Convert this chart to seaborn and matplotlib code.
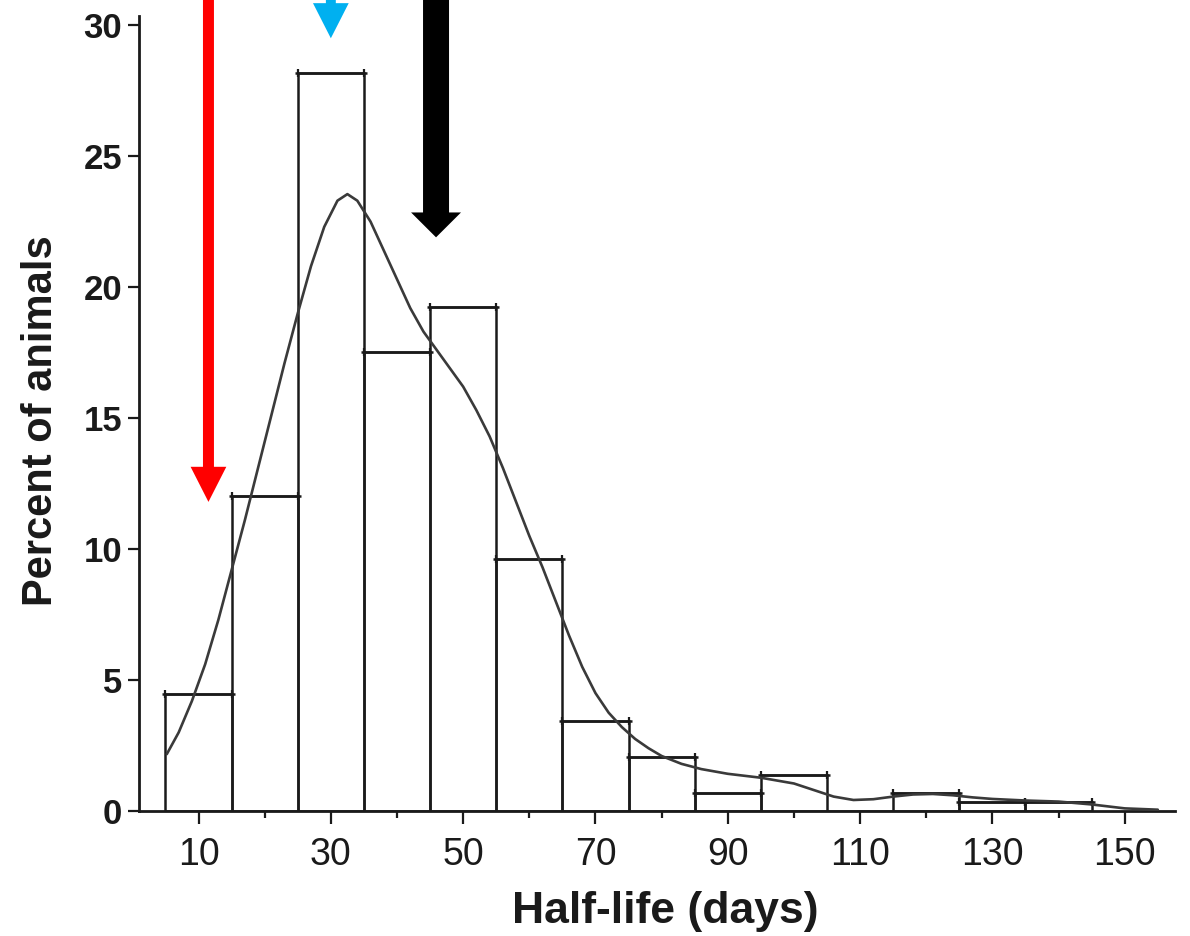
import matplotlib
matplotlib.use("Agg")
import matplotlib.pyplot as plt
import numpy as np
import pandas as pd
import seaborn as sns
from matplotlib.ticker import FixedLocator

# ---------------- data ----------------
bin_centers = [10, 20, 30, 40, 50, 60, 70, 80, 90, 100, 110, 120, 130, 140]
percent = [4.47, 12.03, 28.18, 17.53, 19.24, 9.62, 3.44, 2.06, 0.69, 1.37, 0.0, 0.69, 0.34, 0.34]
bin_width = 10

curve_days = [5.2, 7, 9, 11, 13, 15, 17, 19, 21, 23, 25, 27, 29, 31, 32.5, 34, 36, 38,
              40, 42, 44, 46, 48, 50, 52, 54, 56, 58, 60, 62, 64, 66, 68, 70, 72, 74,
              76, 78, 80, 83, 86, 90, 95, 100, 103, 106, 109, 112, 115, 118, 121, 124,
              127, 130, 135, 140, 145, 150, 155]
curve_pct = [2.17, 3.0, 4.2, 5.6, 7.3, 9.2, 11.1, 13.1, 15.1, 17.1, 19.0, 20.8, 22.3,
             23.3, 23.55, 23.3, 22.5, 21.4, 20.3, 19.2, 18.3, 17.6, 16.9, 16.2, 15.3,
             14.3, 13.1, 11.8, 10.5, 9.3, 8.0, 6.7, 5.5, 4.5, 3.75, 3.2, 2.75, 2.4,
             2.1, 1.8, 1.6, 1.42, 1.27, 1.05, 0.8, 0.55, 0.42, 0.45, 0.55, 0.63, 0.65,
             0.6, 0.52, 0.46, 0.40, 0.36, 0.25, 0.10, 0.05]

xtick_major = [10, 30, 50, 70, 90, 110, 130, 150]
xtick_minor = [20, 40, 60, 80, 100, 120, 140]
ytick_vals = [0, 5, 10, 15, 20, 25, 30]

arrow_days = [11.5, 30.0, 45.9]
arrow_tips = [11.8, 29.5, 21.9]
arrow_colors = ["#ff0000", "#00b0f0", "#000000"]

x_label = "Half-life (days)"
y_label = "Percent of animals"

# ---------------- style ----------------
arrow_style = [dict(width=1.66, head_width=5.4, head_length=1.34),
               dict(width=1.5, head_width=5.4, head_length=1.34),
               dict(width=3.93, head_width=7.55, head_length=0.95)]

sns.set_theme(style="ticks")
plt.rcParams["font.family"] = ["Liberation Sans", "DejaVu Sans"]

fig = plt.figure(figsize=(11.9, 9.36), dpi=100)
ax = fig.add_axes([0.1168, 0.13355, 0.8706, 0.84936])

line_col = "#1a1a1a"
edges = [c - bin_width / 2 for c in bin_centers] + [bin_centers[-1] + bin_width / 2]
df = pd.DataFrame({"day": bin_centers, "pct": percent})
sns.histplot(data=df, x="day", weights="pct", bins=edges, fill=False,
             element="bars", color=line_col, linewidth=1.8, ax=ax, zorder=2)

# small overhanging caps at bar tops
for c, h in zip(bin_centers, percent):
    if h <= 0:
        continue
    l, r = c - bin_width / 2, c + bin_width / 2
    ax.plot([l - 0.45, r + 0.45], [h, h], color=line_col, lw=1.8,
            solid_capstyle="butt", zorder=2)
    ax.plot([l, r], [h, h], ls="none", marker="|", ms=6, mew=1.6,
            color=line_col, zorder=2)

sns.lineplot(x=curve_days, y=curve_pct, ax=ax, color="#3a3a3a", lw=1.9,
             sort=False, zorder=3)
ax.lines[-1].set_solid_joinstyle("round")

for xd, tip, col, st in zip(arrow_days, arrow_tips, arrow_colors, arrow_style):
    top = 31.5
    ax.arrow(xd, top, 0, tip - top, length_includes_head=True, color=col,
             ec="none", clip_on=False, zorder=5, **st)

ax.set_xlim(1.0, 157.6)
ax.set_ylim(0, 30.35)

sns.despine(ax=ax)
for s in ["left", "bottom"]:
    ax.spines[s].set_linewidth(2.0)
    ax.spines[s].set_color("#1a1a1a")

ax.xaxis.set_major_locator(FixedLocator(xtick_major))
ax.xaxis.set_minor_locator(FixedLocator(xtick_minor))
ax.yaxis.set_major_locator(FixedLocator(ytick_vals))
ax.set_xticklabels([str(v) for v in xtick_major])
ax.set_yticklabels([str(v) for v in ytick_vals])

ax.tick_params(axis="x", which="major", length=9.4, width=1.6, pad=9,
               labelsize=27, colors="#1a1a1a", direction="out")
ax.tick_params(axis="x", which="minor", length=5, width=1.6, direction="out",
               colors="#1a1a1a")
ax.tick_params(axis="y", which="major", length=8, width=1.6, pad=4,
               labelsize=25, colors="#1a1a1a", direction="out")
for lbl in ax.get_yticklabels():
    lbl.set_fontweight("bold")

ax.set_xlabel(x_label, fontsize=32, fontweight="bold", color="#1a1a1a")
ax.set_ylabel(y_label, fontsize=30, fontweight="bold", color="#1a1a1a")
ax.xaxis.set_label_coords(0.508, -0.1006)
ax.yaxis.set_label_coords(-0.0946, 0.4906)
ax.yaxis.label.set_va("center")

fig.savefig("out.png", dpi=100, facecolor="white")
